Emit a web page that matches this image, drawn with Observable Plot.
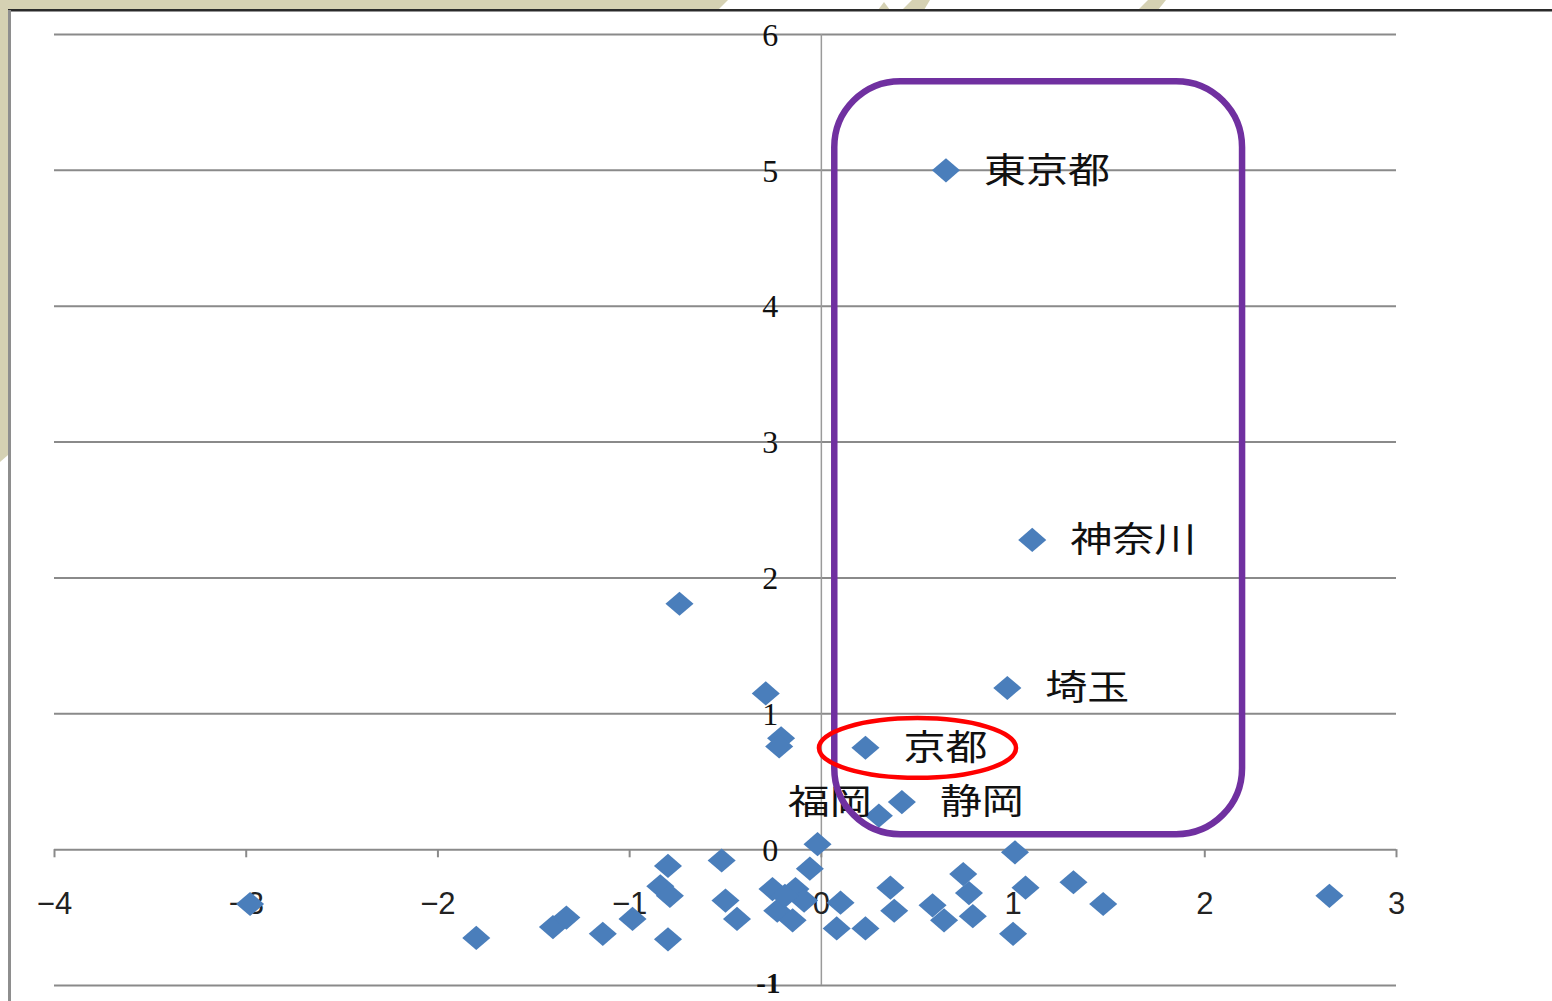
<!DOCTYPE html>
<html lang="ja">
<head>
<meta charset="utf-8">
<title>都道府県 散布図</title>
<script src="https://cdn.jsdelivr.net/npm/d3@7"></script>
<script src="https://cdn.jsdelivr.net/npm/@observablehq/plot@0.6"></script>
<style>
  body { margin: 0; background: #fff; }
  #slide { position: relative; width: 1552px; height: 1001px; overflow: hidden; background: #fff; }
  #deco { position: absolute; left: 0; top: 0; }
  #chart { position: absolute; left: 0; top: 0; }
  #chart svg { overflow: visible; }
</style>
</head>
<body>
<div id="slide">
  <svg id="deco" width="1552" height="1001">
    <!-- slide background peeking around the chart object -->
    <polygon points="0,0 728,0 718,10 0,10" fill="#d5d1b3"/>
    <polygon points="0,0 8,0 8,455 0,462" fill="#d5d1b3"/>
    <polygon points="878,10 884,2 890,10" fill="#d5d1b3"/>
    <polygon points="902,10 912,0 930,0 924,10" fill="#d5d1b3"/>
    <polygon points="1138,10 1148,0 1166,0 1158,10" fill="#d5d1b3"/>
    <!-- chart object border -->
    <rect x="8" y="9" width="1544" height="2.5" fill="#2b2b2b"/>
    <rect x="8" y="10" width="3" height="991" fill="#8e8e8e"/>
  </svg>
  <div id="chart"></div>
</div>
<script>
// Labelled prefectures
const labeledNames = ["東京都", "神奈川", "埼玉", "京都", "静岡", "福岡"];
const labeledX = [0.65, 1.10, 0.97, 0.23, 0.42, 0.30];
const labeledY = [5.00, 2.28, 1.19, 0.75, 0.35, 0.25];

// Remaining prefectures (unlabelled)
const otherX = [-2.98, -1.80, -1.40, -1.33, -1.14, -0.985, -0.80, -0.84, -0.79, -0.80,
                -0.52, -0.50, -0.44, -0.74, -0.29, -0.21, -0.22,
                -0.255, -0.135, -0.23, -0.15, -0.09, -0.19,
                -0.02, -0.06, 0.10, 0.08, 0.23, 0.36, 0.38, 0.58, 0.64,
                0.74, 0.77, 0.79, 1.01, 1.065, 1.00, 1.315, 1.47, 2.65];
const otherY = [-0.40, -0.65, -0.57, -0.50, -0.62, -0.51, -0.12, -0.27, -0.34, -0.66,
                -0.08, -0.375, -0.51, 1.81, 1.15, 0.82, 0.76,
                -0.29, -0.29, -0.45, -0.52, -0.375, -0.34,
                0.04, -0.14, -0.39, -0.58, -0.58, -0.28, -0.45, -0.41, -0.52,
                -0.18, -0.32, -0.49, -0.02, -0.28, -0.62, -0.24, -0.40, -0.34];

// Axis ticks
const xTicks = [-4, -3, -2, -1, 0, 1, 2, 3];
const yTicks = [-1, 0, 1, 2, 3, 4, 5, 6];

// Hand-drawn emphasis shapes, in data units
const highlightBox = [{x1: 0.07, x2: 2.197, y1: 0.11, y2: 5.653}];
const highlightEllipse = [{x1: -0.01, x2: 1.018, y1: 0.525, y2: 0.965}];

const labeled = labeledNames.map((name, i) => ({name, x: labeledX[i], y: labeledY[i]}));
const others = otherX.map((x, i) => ({x, y: otherY[i]}));
const points = others.concat(labeled);

// Diamond marker, slightly wider than tall
const diamond = {
  draw(context, size) {
    const r = Math.sqrt(size / Math.PI);
    const w = r * 1.08, h = r * 0.93;
    context.moveTo(0, -h);
    context.lineTo(w, 0);
    context.lineTo(0, h);
    context.lineTo(-w, 0);
    context.closePath();
  }
};

const labelFont = "'Noto Sans CJK JP', 'Noto Sans', sans-serif";

const frame = {
  width: 1552,
  height: 1001,
  marginLeft: 54,
  marginRight: 156,
  marginTop: 34,
  marginBottom: 16,
  style: {background: "transparent"},
  x: {domain: [-4, 3], axis: null},
  y: {domain: [-1, 6], axis: null}
};

const chart = Plot.plot({
  ...frame,
  marks: [
    // horizontal gridlines (the one at 0 doubles as the x axis)
    Plot.ruleY(yTicks, {y: d => d, x1: -4, x2: 3, stroke: "#8a8a8a", strokeWidth: 2}),
    // vertical axis at x = 0
    Plot.ruleX([0], {x: d => d, y1: -1, y2: 6, stroke: "#9a9a9a", strokeWidth: 1.5}),
    // x tick marks hanging below the axis
    Plot.ruleX(xTicks, {x: d => d, y1: 0, y2: -0.06, stroke: "#8a8a8a", strokeWidth: 2}),
    // x tick labels
    Plot.text(xTicks, {
      x: d => d, y: 0, dy: 54,
      text: d => d < 0 ? "\u2212" + Math.abs(d) : String(d),
      fontSize: 31, fontFamily: "'Liberation Sans', sans-serif", fill: "#222"
    }),
    // y tick labels beside the vertical axis
    Plot.text(yTicks.filter(d => d >= 0), {
      x: 0, y: d => d, dx: -51, dy: 1,
      text: d => String(d),
      fontSize: 32, fontFamily: "'Liberation Serif', serif", fill: "#111"
    }),
    Plot.text(yTicks.filter(d => d < 0), {
      x: 0, y: d => d, dx: -53, dy: -2,
      text: d => String(d),
      fontSize: 29, fontWeight: "bold", fontFamily: "'Liberation Serif', serif", fill: "#111"
    }),
    // prefectures
    Plot.dot(points, {x: "x", y: "y", symbol: diamond, r: 13, fill: "#4a7ebb", stroke: "none"}),
    // prefecture labels, right of their markers
    Plot.text(labeled.filter(d => d.name !== "福岡"), {
      x: "x", y: "y", text: "name", dx: 38, dy: 1,
      textAnchor: "start", fontSize: 35,
      fontFamily: labelFont, fill: "#111"
    }),
    // 福岡 label sits up and to the left of its marker
    Plot.text(labeled.filter(d => d.name === "福岡"), {
      x: "x", y: "y", text: "name", dx: -7, dy: -13,
      textAnchor: "end", fontSize: 34,
      fontFamily: labelFont, fill: "#111"
    })
  ]
});

// emphasis shapes drawn on top
const overlay = Plot.plot({
  ...frame,
  marks: [
    Plot.rect(highlightBox, {
      x1: "x1", x2: "x2", y1: "y1", y2: "y2",
      fill: "none", stroke: "#7030a0", strokeWidth: 6.5, rx: 66
    }),
    Plot.rect(highlightEllipse, {
      x1: "x1", x2: "x2", y1: "y1", y2: "y2",
      fill: "none", stroke: "#ff0000", strokeWidth: 4.5, rx: 103, ry: 30
    })
  ]
});

// the label lettering is set wide: stretch each kanji horizontally
const nameSet = new Set(labeledNames);
chart.querySelectorAll("text").forEach(t => {
  const s = t.textContent.trim();
  if (nameSet.has(s)) {
    t.setAttribute("textLength", s.length * 42);
    t.setAttribute("lengthAdjust", "spacingAndGlyphs");
  }
});

const holder = document.getElementById("chart");
holder.appendChild(chart);
overlay.style.position = "absolute";
overlay.style.left = "0";
overlay.style.top = "0";
holder.appendChild(overlay);
</script>
</body>
</html>
